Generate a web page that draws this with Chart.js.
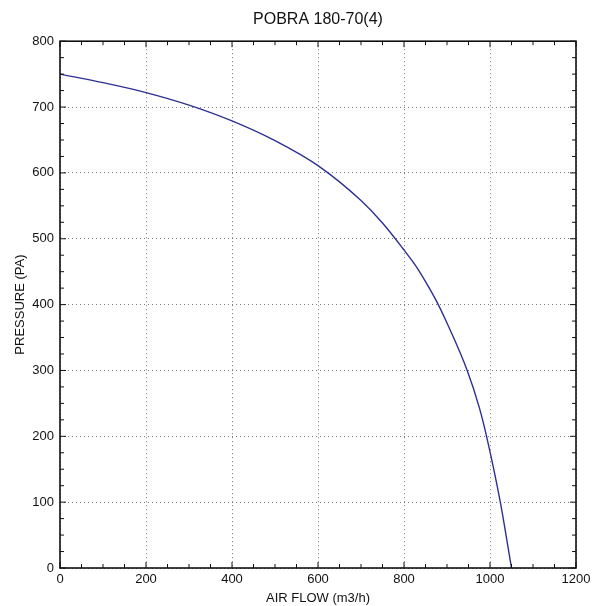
<!DOCTYPE html>
<html>
<head>
<meta charset="utf-8">
<script src="https://cdn.jsdelivr.net/npm/chart.js@4.4.0/dist/chart.umd.min.js"></script>
<style>
  html, body { margin: 0; padding: 0; background: #fff; }
  #wrap { width: 596px; height: 606px; }
</style>
</head>
<body>
<div id="wrap"><canvas id="fanChart" width="596" height="606"></canvas></div>
<script>
// curve
const airFlow = [0, 100, 200, 300, 400, 500, 600, 700, 750, 800, 825, 850, 875, 900, 947, 975, 992, 1024, 1050];
const pressure = [750, 737, 722, 703, 679, 649, 611, 558, 524, 483, 461, 435, 406, 372, 300, 244, 200, 100, 0];
const xTicks = [0, 200, 400, 600, 800, 1000, 1200];
const yTicks = [0, 100, 200, 300, 400, 500, 600, 700, 800];

const FONT = "'Liberation Sans', Arial, Helvetica, sans-serif";

// frame + inward ticks (major and minor) like the original plot
const frameTicks = {
    id: 'frameTicks',
    afterDraw(chart) {
        const ctx = chart.ctx;
        const a = chart.chartArea;
        const xs = chart.scales.x, ys = chart.scales.y;
        ctx.save();
        ctx.strokeStyle = '#111';
        ctx.lineWidth = 1;
        for (let v = 0; v <= 1200; v += 50) {
            const px = xs.getPixelForValue(v);
            const len = v % 200 === 0 ? 6 : 4;
            ctx.beginPath();
            ctx.moveTo(px, a.bottom); ctx.lineTo(px, a.bottom - len);
            ctx.moveTo(px, a.top); ctx.lineTo(px, a.top + len);
            ctx.stroke();
        }
        for (let v = 0; v <= 800; v += 25) {
            const py = ys.getPixelForValue(v);
            const len = v % 100 === 0 ? 6 : 4;
            ctx.beginPath();
            ctx.moveTo(a.left, py); ctx.lineTo(a.left + len, py);
            ctx.moveTo(a.right, py); ctx.lineTo(a.right - len, py);
            ctx.stroke();
        }
        ctx.lineWidth = 1.6;
        ctx.strokeRect(a.left, a.top, a.right - a.left, a.bottom - a.top);
        ctx.restore();
    }
};

new Chart(document.getElementById('fanChart').getContext('2d'), {
    type: 'scatter',
    data: {
        datasets: [{
            data: airFlow.map((x, i) => ({ x: x, y: pressure[i] })),
            showLine: true,
            borderColor: '#2f2f92',
            borderWidth: 1.4,
            pointRadius: 0,
            cubicInterpolationMode: 'monotone',
            fill: false
        }]
    },
    options: {
        responsive: false,
        animation: false,
        layout: { padding: { left: 0, right: 20, top: 0, bottom: 0 } },
        plugins: {
            legend: { display: false },
            tooltip: { enabled: false },
            title: {
                display: true,
                fullSize: false,
                text: 'POBRA 180-70(4)',
                color: '#111',
                font: { family: FONT, size: 16, weight: 'normal' },
                padding: { top: 10, bottom: 12 }
            }
        },
        scales: {
            x: {
                type: 'linear',
                min: 0,
                max: 1200,
                afterBuildTicks: s => { s.ticks = xTicks.map(v => ({ value: v })); },
                afterFit: s => { s.height = 38; },
                ticks: { color: '#111', font: { family: FONT, size: 13 }, padding: 4, maxRotation: 0, callback: v => String(v) },
                grid: { color: '#777', lineWidth: 1, drawTicks: false },
                border: { display: false, dash: [1, 3] },
                title: {
                    display: true,
                    text: 'AIR FLOW (m3/h)',
                    color: '#111',
                    font: { family: FONT, size: 13 },
                    padding: { top: 2, bottom: 0 }
                }
            },
            y: {
                type: 'linear',
                min: 0,
                max: 800,
                afterBuildTicks: s => { s.ticks = yTicks.map(v => ({ value: v })); },
                afterFit: s => { s.width = 60; },
                ticks: { color: '#111', font: { family: FONT, size: 13 }, padding: 6, callback: v => String(v) },
                grid: { color: '#777', lineWidth: 1, drawTicks: false },
                border: { display: false, dash: [1, 3] },
                title: {
                    display: true,
                    text: 'PRESSURE (PA)',
                    color: '#111',
                    font: { family: FONT, size: 13 },
                    padding: { top: 13, bottom: 4 }
                }
            }
        }
    },
    plugins: [frameTicks]
});
</script>
</body>
</html>
